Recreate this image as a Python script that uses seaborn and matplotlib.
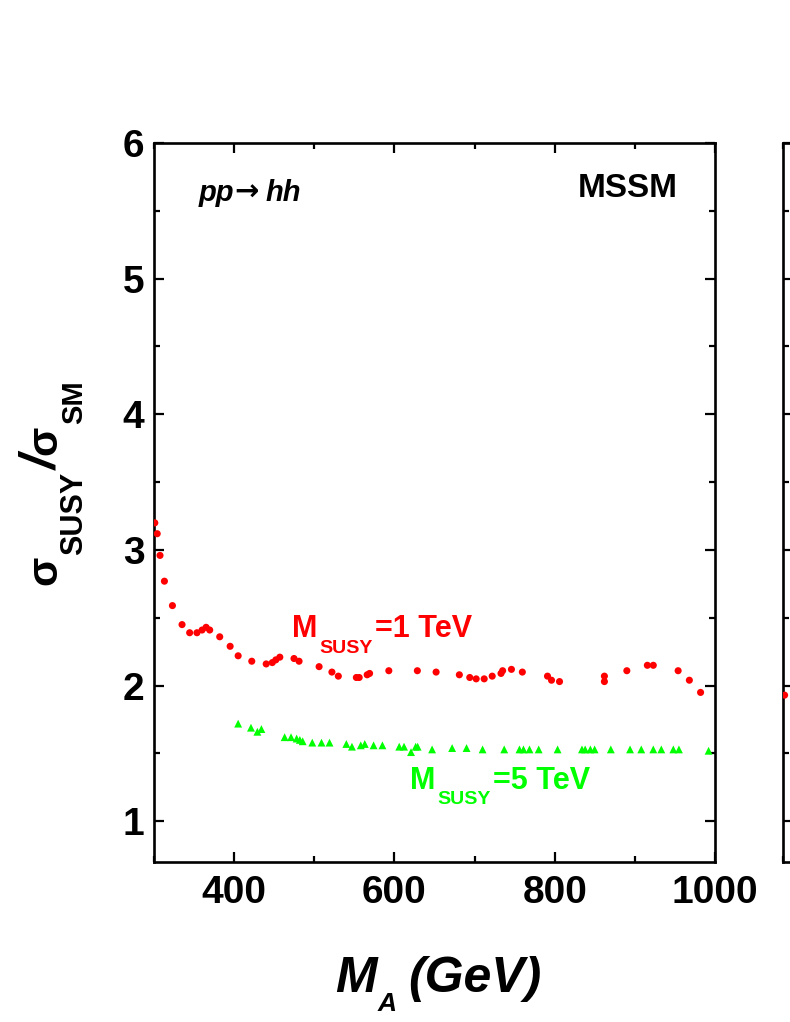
import math
import numpy as np
import pandas as pd
import matplotlib
matplotlib.use("Agg")
import matplotlib.pyplot as plt
import seaborn as sns
from matplotlib.ticker import MultipleLocator

# ---- data ----
red_x = [301, 304, 307.5, 313, 323, 335, 344.5, 353.6, 360, 365, 369.5, 382, 395, 405,
         422, 440, 447.6, 452, 457, 474.7, 481, 506, 522, 530, 552.5, 556, 566, 569,
         593, 628.6, 652, 681, 694, 702, 712, 722, 733, 735, 746, 759.6, 791, 796, 806,
         862, 862, 890, 915.6, 923, 954, 968, 982]
red_y = [3.20, 3.12, 2.96, 2.77, 2.59, 2.45, 2.39, 2.39, 2.41, 2.43, 2.41, 2.36, 2.29, 2.22,
         2.18, 2.16, 2.17, 2.19, 2.21, 2.20, 2.18, 2.14, 2.10, 2.07, 2.06, 2.06, 2.08, 2.09,
         2.11, 2.11, 2.10, 2.08, 2.06, 2.05, 2.05, 2.07, 2.09, 2.11, 2.12, 2.10, 2.07, 2.04, 2.03,
         2.07, 2.03, 2.11, 2.15, 2.15, 2.11, 2.04, 1.95]

green_x = [405, 421, 429, 434, 463, 471, 478, 482, 485.5, 497.5, 509, 519, 540, 547, 558, 563,
           574, 585, 606, 612, 620.7, 626.5, 629, 647, 672, 690, 710, 737, 756, 761, 768.5,
           780, 803.6, 834, 838, 844.5, 849.8, 870, 894, 908, 923, 933, 948, 955, 992]
green_y = [1.72, 1.69, 1.66, 1.68, 1.62, 1.62, 1.61, 1.60, 1.59, 1.58, 1.58, 1.58, 1.57, 1.55,
           1.56, 1.57, 1.56, 1.56, 1.55, 1.55, 1.51, 1.55, 1.55, 1.53, 1.54, 1.54, 1.53, 1.53,
           1.53, 1.53, 1.53, 1.53, 1.53, 1.53, 1.53, 1.53, 1.53, 1.53, 1.53, 1.53, 1.53, 1.53,
           1.53, 1.53, 1.52]

# partially visible neighbouring panel
next_x = [302]
next_y = [1.93]

x_ticks = [400, 600, 800, 1000]
y_ticks = [1, 2, 3, 4, 5, 6]

red_df = pd.DataFrame({"MA": red_x, "ratio": red_y})
green_df = pd.DataFrame({"MA": green_x, "ratio": green_y})
next_df = pd.DataFrame({"MA": next_x, "ratio": next_y})

sns.set_style("ticks")
FAM = ["Liberation Sans", "DejaVu Sans"]
plt.rcParams["font.family"] = FAM
plt.rcParams["font.weight"] = "bold"
for k in ("text.color", "axes.edgecolor", "axes.labelcolor", "xtick.color", "ytick.color"):
    plt.rcParams[k] = "black"

RED = "#ff0000"
GREEN = "#00ff00"
W, H = 790, 1022

fig = plt.figure(figsize=(W / 100, H / 100), dpi=100)
ax = fig.add_axes([154 / W, 1 - 862 / H, (715 - 154) / W, (862 - 143) / H])
ax2 = fig.add_axes([783 / W, 1 - 862 / H, (715 - 154) / W, (862 - 143) / H])


def style_axes(a):
    a.set_xlim(300, 1000)
    a.set_ylim(0.7, 6)
    a.xaxis.set_major_locator(MultipleLocator(200))
    a.xaxis.set_minor_locator(MultipleLocator(100))
    a.yaxis.set_major_locator(MultipleLocator(1))
    a.yaxis.set_minor_locator(MultipleLocator(0.5))
    for s in a.spines.values():
        s.set_linewidth(1.9)
        s.set_visible(True)
        s.set_color("black")
    a.tick_params(which="both", direction="in", top=True, right=True, width=1.6,
                  color="black")
    a.tick_params(which="major", length=7.5, labelsize=28, pad=7)
    a.tick_params(which="minor", length=4.5)


style_axes(ax)
style_axes(ax2)

sns.scatterplot(data=red_df, x="MA", y="ratio", ax=ax, color=RED, marker="o",
                s=26, edgecolor="none", linewidth=0, zorder=3)
sns.scatterplot(data=green_df, x="MA", y="ratio", ax=ax, color=GREEN, marker="^",
                s=32, edgecolor="none", linewidth=0, zorder=3)
sns.scatterplot(data=next_df, x="MA", y="ratio", ax=ax2, color=RED, marker="o",
                s=26, edgecolor="none", linewidth=0, zorder=3)

ax.set_xticks(x_ticks)
ax.set_yticks(y_ticks)
ax.set_xticklabels([str(v) for v in x_ticks], fontweight="bold")
ax.set_yticklabels([str(v) for v in y_ticks], fontweight="bold")
ax.tick_params(axis="x", which="major", pad=9)
ax2.set_xticklabels([])
ax2.set_yticklabels([])
ax.set_xlabel("")
ax.set_ylabel("")
ax2.set_xlabel("")
ax2.set_ylabel("")

renderer = fig.canvas.get_renderer()


def rich(x, y, pieces, rotation=0, color="black"):
    """Place text pieces one after another (pixel coords, origin bottom-left).
    pieces: (string, fontsize, drop_px, style, family, gap_px)"""
    a = math.radians(rotation)
    ux, uy = math.cos(a), math.sin(a)
    dx, dy = math.sin(a), -math.cos(a)
    cur = 0.0
    for s, size, drop, style, fam, gap in pieces:
        px = x + cur * ux + drop * dx
        py = y + cur * uy + drop * dy
        t = fig.text(px / W, py / H, s, fontsize=size, fontweight="bold",
                     fontstyle=style, family=fam, color=color, rotation=rotation,
                     rotation_mode="anchor", ha="left", va="baseline")
        bb = t.get_window_extent(renderer)
        adv = bb.width if rotation == 0 else bb.height
        cur += adv + gap


def data_px(xv, yv):
    return ax.transData.transform((xv, yv))

# y label: sigma_SUSY / sigma_SM (rotated)
rich(56, H - 585, [
    ("σ", 31, 0, "normal", FAM, 1),
    ("SUSY", 22, 26, "normal", FAM, 1),
    ("/", 36, 0, "italic", FAM, 2),
    ("σ", 31, 0, "normal", FAM, 1),
    ("SM", 21, 26, "normal", FAM, 0),
], rotation=90)

# x label: M_A (GeV)
rich(335, H - 992, [
    ("M", 36, 0, "italic", FAM, 1),
    ("A", 19, 19, "italic", FAM, 12),
    ("(GeV)", 36, 0, "italic", FAM, 0),
])

# in-panel annotations
px, py = data_px(356, 5.573)
rich(px, py, [
    ("pp", 21, 0, "italic", FAM, 0),
    ("→", 21, 0, "normal", ["DejaVu Sans"], 7),
    ("hh", 21, 0, "italic", FAM, 0),
])
ax.text(953, 5.60, "MSSM", fontsize=24, fontweight="bold", ha="right", va="baseline")

px, py = data_px(472.2, 2.355)
rich(px, py, [
    ("M", 22, 0, "normal", FAM, 2),
    ("SUSY", 14, 16, "normal", FAM, 2),
    ("=1 TeV", 22, 0, "normal", FAM, 0),
], color=RED)

px, py = data_px(619.5, 1.236)
rich(px, py, [
    ("M", 22, 0, "normal", FAM, 2),
    ("SUSY", 14, 15, "normal", FAM, 2),
    ("=5 TeV", 22, 0, "normal", FAM, 0),
], color=GREEN)

fig.savefig("out.png", dpi=100)
